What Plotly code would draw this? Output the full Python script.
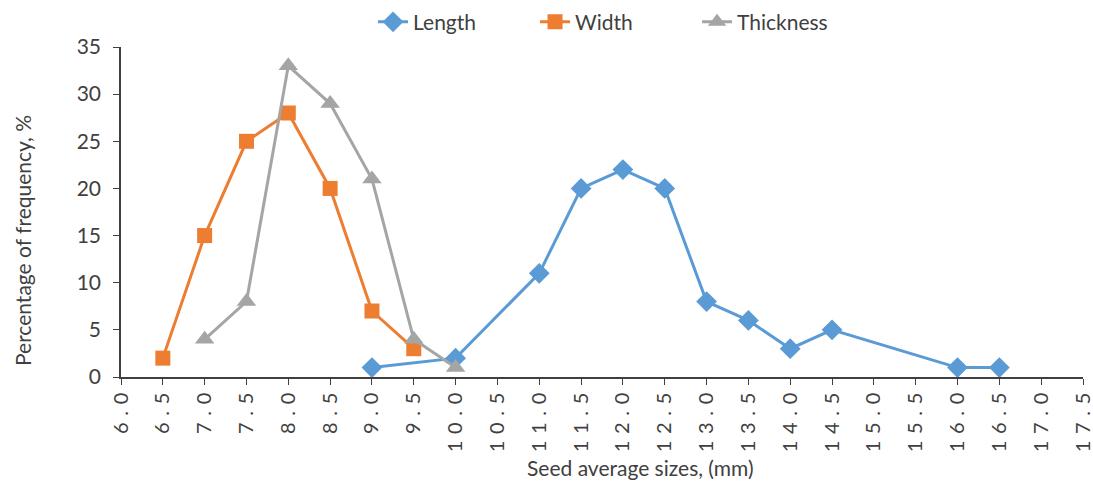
import plotly.graph_objects as go

len_x = [9.0, 10.0, 11.0, 11.5, 12.0, 12.5, 13.0, 13.5, 14.0, 14.5, 16.0, 16.5]
len_y = [1, 2, 11, 20, 22, 20, 8, 6, 3, 5, 1, 1]
wid_x = [6.5, 7.0, 7.5, 8.0, 8.5, 9.0, 9.5]
wid_y = [2, 15, 25, 28, 20, 7, 3]
thk_x = [7.0, 7.5, 8.0, 8.5, 9.0, 9.5, 10.0]
thk_y = [4, 8, 33, 29, 21, 4, 1]

tick_vals = [6.0 + 0.5 * i for i in range(24)]
tick_text = ["\u2004".join(f"{v:.1f}") for v in tick_vals]

FONT = "Lato, 'Open Sans', sans-serif"
TXT = "#404040"

fig = go.Figure()
fig.add_trace(go.Scatter(x=len_x, y=len_y, name="Length", mode="lines+markers",
                         line=dict(color="#5B9BD5", width=3),
                         marker=dict(symbol="diamond", size=16, color="#5B9BD5")))
fig.add_trace(go.Scatter(x=wid_x, y=wid_y, name="Width", mode="lines+markers",
                         line=dict(color="#ED7D31", width=3),
                         marker=dict(symbol="square", size=15, color="#ED7D31")))
fig.add_trace(go.Scatter(x=thk_x, y=thk_y, name="Thickness", mode="lines+markers",
                         line=dict(color="#A5A5A5", width=3),
                         marker=dict(symbol="triangle-up", size=17, color="#A5A5A5")))

fig.add_annotation(text="Seed average sizes, (mm)", xref="paper", yref="paper",
                   x=(640 - 121) / 962, y=(377 - 467) / 330, showarrow=False,
                   xanchor="center", yanchor="middle",
                   font=dict(family=FONT, size=21, color=TXT))
fig.add_annotation(text="Percentage of frequency, %", xref="paper", yref="paper",
                   x=(22 - 121) / 962, y=(377 - 241) / 330, showarrow=False,
                   textangle=-90, xanchor="center", yanchor="middle",
                   font=dict(family=FONT, size=21, color=TXT))

fig.update_layout(
    width=1093, height=482,
    margin=dict(l=121, r=10, t=47, b=105, autoexpand=False),
    paper_bgcolor="white", plot_bgcolor="white",
    font=dict(family=FONT, size=20, color=TXT),
    showlegend=True,
    legend=dict(orientation="h", x=0.262, xanchor="left", y=1.013, yanchor="bottom",
                font=dict(size=21, color=TXT),
                entrywidth=117, entrywidthmode="pixels"),
    xaxis=dict(range=[6.0, 17.5], tickmode="array", tickvals=tick_vals, ticktext=tick_text,
               tickangle=-90, showgrid=False, zeroline=False, showline=True,
               linecolor=TXT, linewidth=1.5, ticks="outside", ticklen=6,
               tickcolor=TXT, tickfont=dict(size=20, color=TXT),
               ticklabeloverflow="allow"),
    yaxis=dict(range=[0, 35], tickmode="array", tickvals=list(range(0, 36, 5)),
               showgrid=False, zeroline=False, showline=True,
               linecolor=TXT, linewidth=1.5, ticks="outside", ticklen=6,
               tickcolor=TXT, tickfont=dict(size=21, color=TXT),
               ticklabelstandoff=8),
)

fig.write_html("out.html")
